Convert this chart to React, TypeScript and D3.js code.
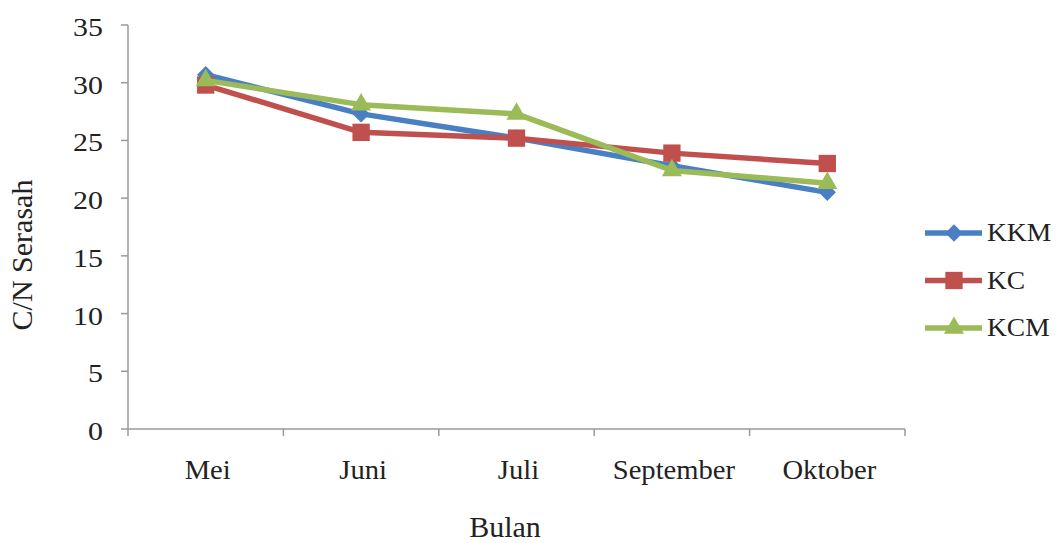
import React from "react";
import * as d3 from "d3";

const months = ["Mei", "Juni", "Juli", "September", "Oktober"];
const kkm = [30.7, 27.3, 25.2, 22.8, 20.5];
const kc = [29.8, 25.7, 25.2, 23.9, 23.0];
const kcm = [30.2, 28.1, 27.3, 22.4, 21.3];
const yTicks = [0, 5, 10, 15, 20, 25, 30, 35];

type Shape = "diamond" | "square" | "triangle";

const seriesList: { name: string; values: number[]; color: string; shape: Shape }[] = [
  { name: "KKM", values: kkm, color: "#4a7fc4", shape: "diamond" },
  { name: "KC", values: kc, color: "#c0504d", shape: "square" },
  { name: "KCM", values: kcm, color: "#9bbb59", shape: "triangle" },
];

const W = 1057;
const H = 543;
const left = 128;
const right = 905;
const top = 25;
const bottom = 429;
const font = "Liberation Serif";
const axisColor = "#9a9a9a";
const textColor = "#222";

// marker path + rotation for each shape
function markerPath(shape: Shape): { d: string; rot: number } {
  if (shape === "diamond") return { d: d3.symbol().type(d3.symbolSquare).size(150)() as string, rot: 45 };
  if (shape === "square") return { d: d3.symbol().type(d3.symbolSquare).size(300)() as string, rot: 0 };
  return { d: d3.symbol().type(d3.symbolTriangle).size(175)() as string, rot: 0 };
}

function Label(props: {
  x: number;
  y: number;
  size: number;
  sx?: number;
  anchor?: "start" | "middle" | "end";
  children: React.ReactNode;
}) {
  const { x, y, size, sx = 1, anchor = "start", children } = props;
  return (
    <text
      transform={`translate(${x},${y}) scale(${sx},1)`}
      textAnchor={anchor}
      fontSize={size}
      fill={textColor}
      style={{ fontFamily: font }}
    >
      {children}
    </text>
  );
}

export default function App() {
  const x = d3.scaleBand<string>().domain(months).range([left, right]);
  const y = d3.scaleLinear().domain([0, 35]).range([bottom, top]);
  const cx = (i: number) => (x(months[i]) as number) + x.bandwidth() / 2;
  const line = d3
    .line<number>()
    .x((_, i) => cx(i))
    .y((d) => y(d));
  const xTickPos = [...months.map((m) => x(m) as number), right];

  return (
    <svg
      width={W}
      height={H}
      style={{ position: "absolute", left: 0, top: 0, background: "#fff" }}
    >
      {/* axes */}
      <line x1={left} x2={left} y1={top} y2={bottom} stroke={axisColor} strokeWidth={1.5} />
      <line x1={left} x2={right} y1={bottom} y2={bottom} stroke={axisColor} strokeWidth={1.5} />
      {yTicks.map((t) => (
        <g key={t}>
          <line x1={left - 7} x2={left} y1={y(t)} y2={y(t)} stroke={axisColor} strokeWidth={1.5} />
          <Label x={103} y={y(t) + 11} size={26} sx={1.15} anchor="end">
            {t}
          </Label>
        </g>
      ))}
      {xTickPos.map((p, i) => (
        <line key={i} x1={p} x2={p} y1={bottom} y2={bottom + 7} stroke={axisColor} strokeWidth={1.5} />
      ))}
      {months.map((m, i) => (
        <Label key={m} x={cx(i) + 2} y={479} size={27} sx={1.06} anchor="middle">
          {m}
        </Label>
      ))}
      <Label x={505} y={537} size={30} anchor="middle">
        Bulan
      </Label>
      <text
        transform="translate(32,255) rotate(-90)"
        textAnchor="middle"
        fontSize={30}
        fill={textColor}
        style={{ fontFamily: font }}
      >
        C/N Serasah
      </text>

      {/* series */}
      {seriesList.map((s) => {
        const mk = markerPath(s.shape);
        return (
          <g key={s.name}>
            <path
              d={line(s.values) as string}
              fill="none"
              stroke={s.color}
              strokeWidth={5.5}
              strokeLinejoin="round"
            />
            {s.values.map((v, i) => (
              <path
                key={i}
                d={mk.d}
                transform={`translate(${cx(i)},${y(v)}) rotate(${mk.rot})`}
                fill={s.color}
              />
            ))}
          </g>
        );
      })}

      {/* legend */}
      {seriesList.map((s, i) => {
        const ly = 233 + i * 47.5;
        const mk = markerPath(s.shape);
        return (
          <g key={s.name}>
            <line x1={925} x2={982} y1={ly} y2={ly} stroke={s.color} strokeWidth={5.5} />
            <path d={mk.d} transform={`translate(954,${ly}) rotate(${mk.rot})`} fill={s.color} />
            <Label x={987} y={ly + 8} size={25} sx={1.1}>
              {s.name}
            </Label>
          </g>
        );
      })}
    </svg>
  );
}
